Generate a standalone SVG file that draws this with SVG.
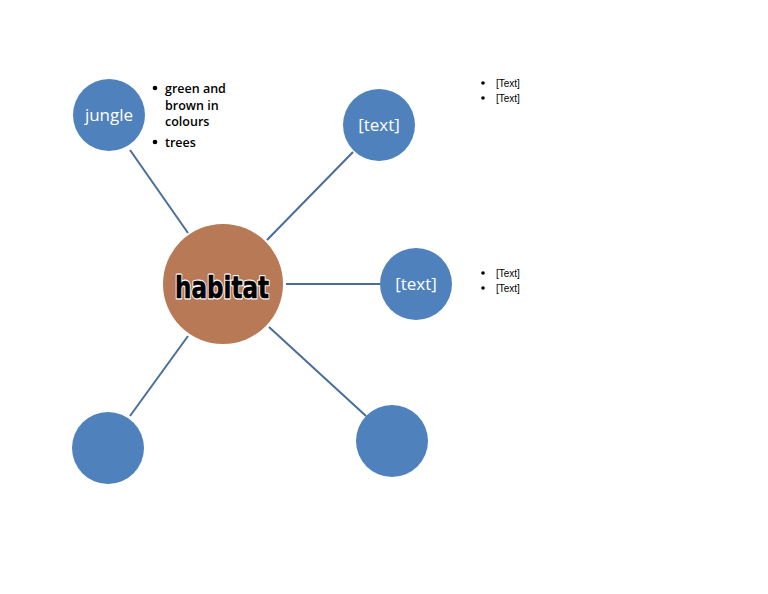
<svg xmlns="http://www.w3.org/2000/svg" width="768" height="594" viewBox="0 0 768 594">
<style>
.node{fill:#4f81bd}
.conn line{stroke:#4a6d9a;stroke-width:2}
.lbl{font-family:"Open Sans","Liberation Sans",sans-serif;font-size:17px;fill:#ffffff;text-anchor:middle}
.note{font-family:"Open Sans","Liberation Sans",sans-serif;font-size:12.5px;font-weight:600;fill:#000}
.small{font-family:"Liberation Sans",sans-serif;font-size:10px;fill:#000}
.hab{font-family:"DejaVu Sans","Liberation Sans",sans-serif;font-weight:bold;font-size:31px;text-anchor:middle}
</style>
<rect width="768" height="594" fill="#ffffff"/>
<g id="connectors" class="conn">
<line x1="130" y1="150" x2="188" y2="233"/>
<line x1="353" y1="152" x2="267" y2="240"/>
<line x1="286" y1="284" x2="380" y2="284"/>
<line x1="188" y1="336" x2="130" y2="416"/>
<line x1="269" y1="327" x2="366" y2="416"/>
</g>
<g id="center">
<circle cx="223" cy="284" r="60" fill="#b87956"/>
<text class="hab" x="222" y="298" fill="#fff" stroke="#ffffff" stroke-width="3" stroke-linejoin="round" textLength="94" lengthAdjust="spacingAndGlyphs">habitat</text>
<text class="hab" x="222" y="298" fill="#000" stroke="#000" stroke-width="0.7" stroke-linejoin="round" textLength="94" lengthAdjust="spacingAndGlyphs">habitat</text>
</g>
<g id="jungle">
<circle class="node" cx="109" cy="115" r="36"/>
<text class="lbl" x="109" y="121">jungle</text>
</g>
<g id="top-right">
<circle class="node" cx="379" cy="125" r="36"/>
<text class="lbl" x="379" y="131">[text]</text>
</g>
<g id="right">
<circle class="node" cx="416" cy="284" r="36"/>
<text class="lbl" x="416" y="290">[text]</text>
</g>
<g id="bottom-left">
<circle class="node" cx="108" cy="448" r="36"/>
</g>
<g id="bottom-right">
<circle class="node" cx="392" cy="441" r="36"/>
</g>
<g id="jungle-notes">
<circle cx="155" cy="88" r="2.3"/>
<text class="note" x="165" y="93">green and</text>
<text class="note" x="165" y="109.5">brown in</text>
<text class="note" x="165" y="126">colours</text>
<circle cx="155" cy="142" r="2.3"/>
<text class="note" x="165" y="147">trees</text>
</g>
<g id="notes-top">
<circle cx="483" cy="83" r="1.8"/>
<text class="small" x="496" y="87">[Text]</text>
<circle cx="483" cy="98" r="1.8"/>
<text class="small" x="496" y="102">[Text]</text>
</g>
<g id="notes-right">
<circle cx="483" cy="273" r="1.8"/>
<text class="small" x="496" y="277">[Text]</text>
<circle cx="483" cy="288" r="1.8"/>
<text class="small" x="496" y="292">[Text]</text>
</g>
</svg>
